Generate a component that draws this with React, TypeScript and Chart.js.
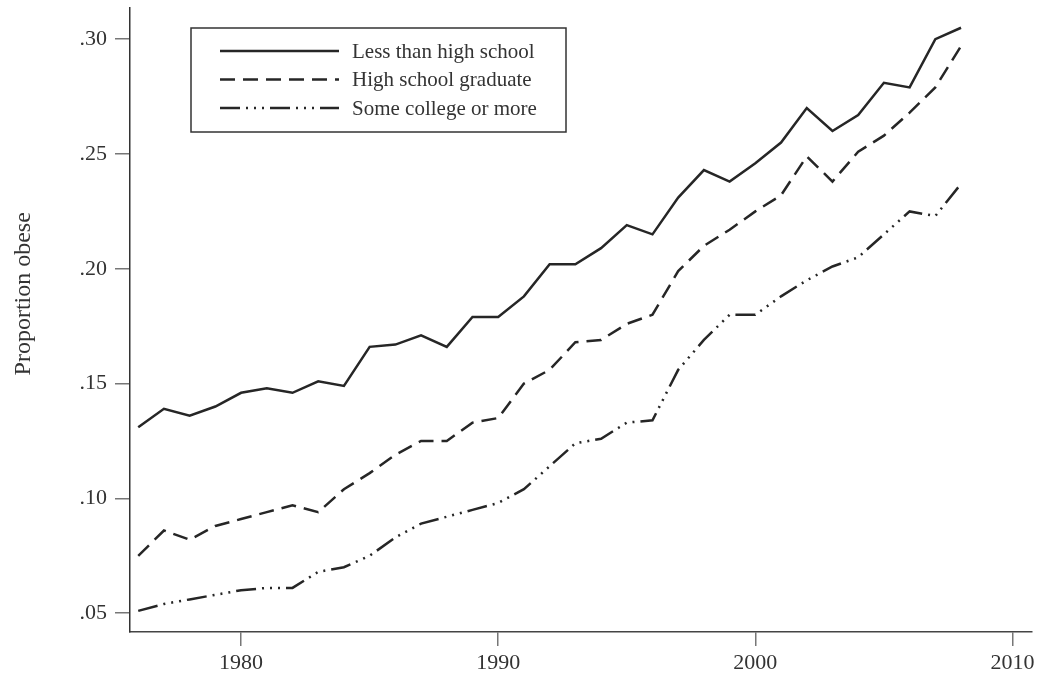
import React, { useEffect, useRef } from "react";
import { Chart, registerables } from "chart.js";

Chart.register(...registerables);

const years = [
  1976, 1977, 1978, 1979, 1980, 1981, 1982, 1983, 1984, 1985, 1986,
  1987, 1988, 1989, 1990, 1991, 1992, 1993, 1994, 1995, 1996, 1997,
  1998, 1999, 2000, 2001, 2002, 2003, 2004, 2005, 2006, 2007, 2008,
];

const lessThanHighSchool = [
  0.131, 0.139, 0.136, 0.140, 0.146, 0.148, 0.146, 0.151, 0.149, 0.166, 0.167,
  0.171, 0.166, 0.179, 0.179, 0.188, 0.202, 0.202, 0.209, 0.219, 0.215, 0.231,
  0.243, 0.238, 0.246, 0.255, 0.270, 0.260, 0.267, 0.281, 0.279, 0.300, 0.305,
];

const highSchoolGraduate = [
  0.075, 0.086, 0.082, 0.088, 0.091, 0.094, 0.097, 0.094, 0.104, 0.111, 0.119,
  0.125, 0.125, 0.133, 0.135, 0.150, 0.156, 0.168, 0.169, 0.176, 0.180, 0.199,
  0.210, 0.217, 0.225, 0.232, 0.249, 0.238, 0.251, 0.258, 0.268, 0.279, 0.297,
];

const someCollegeOrMore = [
  0.051, 0.054, 0.056, 0.058, 0.060, 0.061, 0.061, 0.068, 0.070, 0.075, 0.083,
  0.089, 0.092, 0.095, 0.098, 0.104, 0.114, 0.124, 0.126, 0.133, 0.134, 0.156,
  0.169, 0.180, 0.180, 0.188, 0.195, 0.201, 0.205, 0.215, 0.225, 0.223, 0.237,
];

const seriesLabels = ["Less than high school", "High school graduate", "Some college or more"];
const xTicks = [1980, 1990, 2000, 2010];
const yTicks = [0.05, 0.1, 0.15, 0.2, 0.25, 0.3];
const yTitle = "Proportion obese";

const FONT = '"Liberation Serif", "DejaVu Serif", serif';
const LINE = "#262626";
const TEXT = "#333333";

const legendPlugin = {
  id: "boxedLegend",
  afterDraw(chart: any) {
    const { ctx, chartArea } = chart;
    const x0 = chartArea.left + 61;
    const y0 = chartArea.top + 20;
    ctx.save();
    ctx.strokeStyle = "#333";
    ctx.lineWidth = 1.5;
    ctx.setLineDash([]);
    ctx.strokeRect(x0, y0, 375, 104);
    chart.data.datasets.forEach((ds: any, i: number) => {
      const y = y0 + 23 + i * 28.5;
      ctx.beginPath();
      ctx.setLineDash(ds.borderDash || []);
      ctx.lineWidth = ds.borderWidth;
      ctx.strokeStyle = ds.borderColor;
      ctx.lineCap = "butt";
      ctx.moveTo(x0 + 29, y);
      ctx.lineTo(x0 + 148, y);
      ctx.stroke();
      ctx.setLineDash([]);
      ctx.fillStyle = TEXT;
      ctx.font = `21px ${FONT}`;
      ctx.textBaseline = "middle";
      ctx.textAlign = "left";
      ctx.fillText(ds.label, x0 + 161, y + 1);
    });
    ctx.translate(chartArea.left - 106, chartArea.top + chartArea.height * 0.458);
    ctx.rotate(-Math.PI / 2);
    ctx.textAlign = "center";
    ctx.textBaseline = "middle";
    ctx.font = `24px ${FONT}`;
    ctx.fillStyle = TEXT;
    ctx.fillText(yTitle, 0, 0);
    ctx.restore();
  },
};

export default function App() {
  const ref = useRef<HTMLCanvasElement>(null);

  useEffect(() => {
    if (!ref.current) return;
    const mk = (vals: number[]) => years.map((x, i) => ({ x, y: vals[i] }));
    const chart = new Chart(ref.current, {
      type: "line",
      data: {
        datasets: [
          {
            label: seriesLabels[0],
            data: mk(lessThanHighSchool),
            borderColor: LINE,
            borderWidth: 2.5,
            borderDash: [],
            pointRadius: 0,
            fill: false,
            tension: 0,
          },
          {
            label: seriesLabels[1],
            data: mk(highSchoolGraduate),
            borderColor: LINE,
            borderWidth: 2.5,
            borderDash: [15, 8],
            pointRadius: 0,
            fill: false,
            tension: 0,
          },
          {
            label: seriesLabels[2],
            data: mk(someCollegeOrMore),
            borderColor: LINE,
            borderWidth: 2.5,
            borderDash: [20, 6, 2, 6, 2, 6, 2, 6],
            pointRadius: 0,
            fill: false,
            tension: 0,
          },
        ],
      },
      options: {
        animation: false,
        responsive: false,
        layout: { padding: { left: 0, top: 8, right: 11, bottom: 0 } },
        plugins: {
          legend: { display: false },
          tooltip: { enabled: false },
        },
        scales: {
          x: {
            type: "linear",
            min: 1975.68,
            max: 2010.76,
            afterBuildTicks: (scale: any) => {
              scale.ticks = xTicks.map((v) => ({ value: v }));
            },
            afterFit: (scale: any) => {
              scale.height = 47;
              scale.paddingLeft = 0;
              scale.paddingRight = 0;
            },
            grid: {
              drawOnChartArea: false,
              drawTicks: true,
              tickLength: 14,
              color: "#777",
              lineWidth: 1.5,
            },
            border: { display: true, color: "#444", width: 1.5 },
            ticks: {
              color: TEXT,
              font: { family: FONT, size: 22 },
              padding: 4,
              maxRotation: 0,
              callback: (v: any) => String(v),
            },
          },
          y: {
            type: "linear",
            min: 0.0418,
            max: 0.3136,
            afterBuildTicks: (scale: any) => {
              scale.ticks = yTicks.map((v) => ({ value: v }));
            },
            afterFit: (scale: any) => {
              scale.width = 130;
              scale.paddingTop = 0;
              scale.paddingBottom = 0;
            },
            grid: {
              drawOnChartArea: false,
              drawTicks: true,
              tickLength: 15,
              color: "#777",
              lineWidth: 1.5,
            },
            border: { display: true, color: "#333", width: 1.5 },
            ticks: {
              color: TEXT,
              font: { family: FONT, size: 22 },
              padding: 8,
              callback: (v: any) => "." + Math.round(Number(v) * 100).toString().padStart(2, "0"),
            },
          },
        },
      },
      plugins: [legendPlugin],
    });
    return () => chart.destroy();
  }, []);

  return (
    <div style={{ position: "fixed", left: 0, top: 0, width: 1043, height: 679, background: "#fff" }}>
      <canvas ref={ref} width={1043} height={679} style={{ display: "block" }} />
    </div>
  );
}
